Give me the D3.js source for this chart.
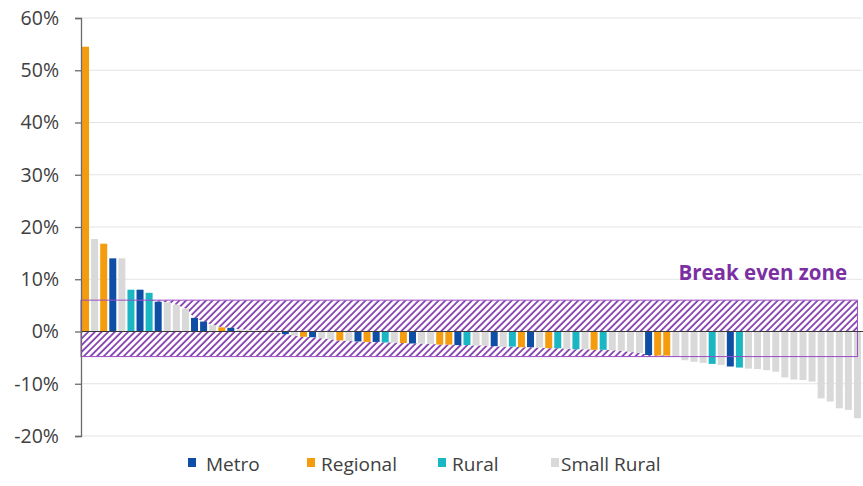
<!DOCTYPE html>
<html>
<head>
<meta charset="utf-8">
<script src="https://cdn.jsdelivr.net/npm/d3@7"></script>
<style>
  html, body { margin: 0; padding: 0; background: #fff; }
  svg { display: block; }
  text { font-family: "Open Sans", "DejaVu Sans", sans-serif; fill: #404040; }
</style>
</head>
<body>
<svg id="chart" width="863" height="486"></svg>
<script>
// Category of each bar, in sorted order (M = Metro, R = Regional, U = Rural, S = Small Rural)
const barGroups = [
  "R","S","R","M","S","U","M","U","M","S",
  "S","S","M","M","S","R","M","S","S","S",
  "S","S","M","S","R","M","S","S","R","S",
  "M","R","M","U","S","R","M","S","S","R",
  "R","M","U","S","S","M","S","U","R","M",
  "S","R","U","S","U","S","R","U","S","S",
  "S","S","M","R","R","S","S","S","S","U",
  "S","M","U","S","S","S","S","S","S","S",
  "S","S","S","S","S","S"
];

// Change per bar, in percent
const barValues = [
  54.5, 17.7, 16.8, 14.0, 14.0, 8.0, 8.0, 7.4, 5.7, 5.6,
  5.1, 4.4, 2.6, 1.9, 1.2, 0.8, 0.7, 0.4, 0.3, 0.2,
  0.1, -0.2, -0.5, -0.8, -1.0, -1.1, -1.3, -1.5, -1.7, -1.8,
  -1.9, -2.0, -2.0, -2.1, -2.1, -2.2, -2.3, -2.3, -2.4, -2.5,
  -2.5, -2.6, -2.6, -2.7, -2.7, -2.8, -2.9, -2.9, -3.0, -3.0,
  -3.1, -3.2, -3.2, -3.3, -3.4, -3.4, -3.5, -3.5, -3.6, -3.7,
  -3.9, -4.1, -4.5, -4.6, -4.6, -4.8, -5.5, -5.8, -6.0, -6.2,
  -6.4, -6.7, -6.9, -7.1, -7.2, -7.4, -7.7, -8.8, -9.2, -9.3,
  -9.6, -12.8, -13.4, -14.7, -15.0, -16.6
];

const legendNames = ["Metro", "Regional", "Rural", "Small Rural"];
const groupCodes  = ["M", "R", "U", "S"];
const groupColors = ["#0f4ea5", "#f59b0e", "#1ab6c3", "#d9d9d9"];

const yTickValues = [-20, -10, 0, 10, 20, 30, 40, 50, 60];

// Break-even band, in percent
const zoneTop = 6;
const zoneBottom = -4.8;
const zoneLabel = "Break even zone";

const svg = d3.select("#chart");
const plotLeft = 81, plotRight = 862, plotTop = 18, plotBottom = 436;

const x = d3.scaleBand()
  .domain(d3.range(barValues.length))
  .range([plotLeft, plotRight])
  .paddingInner(0.23)
  .paddingOuter(0.115);

const y = d3.scaleLinear().domain([-20, 60]).range([plotBottom, plotTop]);

const color = d3.scaleOrdinal().domain(groupCodes).range(groupColors);

// Hatch pattern
const hs = 4.7;
const defs = svg.append("defs");
const pat = defs.append("pattern")
  .attr("id", "hatch")
  .attr("patternUnits", "userSpaceOnUse")
  .attr("width", hs).attr("height", hs)
  .attr("patternTransform", "rotate(45)");
pat.append("rect").attr("width", hs).attr("height", hs).attr("fill", "#ffffff");
pat.append("line")
  .attr("x1", 1).attr("y1", 0).attr("x2", 1).attr("y2", hs)
  .attr("stroke", "#7f35aa").attr("stroke-width", 1.7);

// Gridlines
svg.append("g")
  .selectAll("line")
  .data(yTickValues.filter(d => d !== 0))
  .join("line")
  .attr("x1", plotLeft).attr("x2", plotRight)
  .attr("y1", d => y(d)).attr("y2", d => y(d))
  .attr("stroke", "#e3e3e3").attr("stroke-width", 1.2);

// Break-even band: hatched between the band edges and the bar ends
const center = i => x(i) + x.bandwidth() / 2;
const zoneRight = center(barValues.length - 1);
const pts = [{ px: plotLeft, v: barValues[0] }]
  .concat(barValues.map((v, i) => ({ px: center(i), v })));

const upperArea = d3.area()
  .x(d => d.px)
  .y0(d => y(Math.min(Math.max(d.v, 0), zoneTop)))
  .y1(y(zoneTop));
const lowerArea = d3.area()
  .x(d => d.px)
  .y0(d => y(Math.max(Math.min(d.v, 0), zoneBottom)))
  .y1(y(zoneBottom));

svg.append("path").datum(pts).attr("d", upperArea).attr("fill", "url(#hatch)");
svg.append("path").datum(pts).attr("d", lowerArea).attr("fill", "url(#hatch)");

// Bars
svg.append("g")
  .selectAll("rect")
  .data(barValues)
  .join("rect")
  .attr("x", (d, i) => x(i))
  .attr("width", x.bandwidth())
  .attr("y", d => y(Math.max(d, 0)))
  .attr("height", d => Math.abs(y(d) - y(0)))
  .attr("fill", (d, i) => color(barGroups[i]));

// Band outline
svg.append("rect")
  .attr("x", plotLeft).attr("y", y(zoneTop))
  .attr("width", zoneRight - plotLeft)
  .attr("height", y(zoneBottom) - y(zoneTop))
  .attr("fill", "none")
  .attr("stroke", "#9b4dc4").attr("stroke-width", 1);

// Zero line
svg.append("line")
  .attr("x1", plotLeft).attr("x2", 863)
  .attr("y1", y(0)).attr("y2", y(0))
  .attr("stroke", "#3a3a3a").attr("stroke-width", 1.2);

// Y axis
const yAxis = d3.axisLeft(y)
  .tickValues(yTickValues)
  .tickSize(6)
  .tickPadding(16)
  .tickFormat(d => d + "%");
const ga = svg.append("g").attr("transform", `translate(${plotLeft},0)`).call(yAxis);
ga.select(".domain").attr("stroke", "#6a6a6a").attr("stroke-width", 1.3);
ga.selectAll(".tick line").attr("stroke", "#6a6a6a").attr("stroke-width", 1.3);
ga.selectAll(".tick text")
  .style("font-size", "19.5px")
  .style("font-family", "'Open Sans', sans-serif")
  .attr("fill", "#404040");

// Band label
svg.append("text")
  .attr("x", 847).attr("y", 280)
  .attr("text-anchor", "end")
  .style("font-size", "20.5px")
  .style("font-weight", "bold")
  .style("fill", "#7b2fa3")
  .text(zoneLabel);

// Legend
const legendSwatchX = [188, 307, 438, 551];
const legendTextX = [206, 321, 452, 561];
const lg = svg.append("g");
legendNames.forEach((name, k) => {
  lg.append("rect")
    .attr("x", legendSwatchX[k]).attr("y", 458)
    .attr("width", 8).attr("height", 9)
    .attr("fill", groupColors[k]);
  lg.append("text")
    .attr("x", legendTextX[k]).attr("y", 470.5)
    .style("font-size", "19px")
    .text(name);
});
</script>
</body>
</html>
